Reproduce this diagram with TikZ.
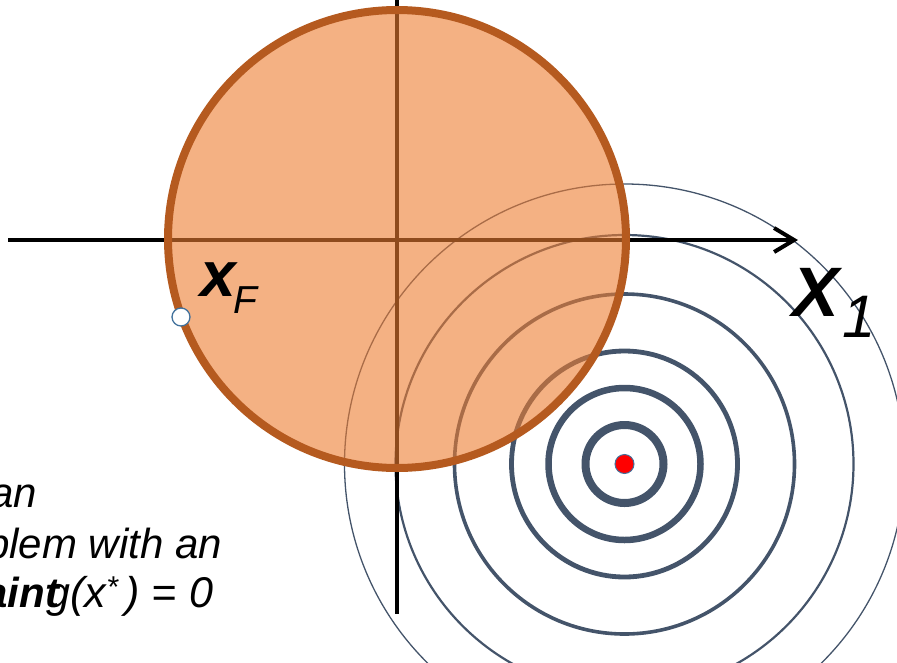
\documentclass[tikz,border=0pt]{standalone}
\usepackage{fontspec}
\setmainfont{Liberation Sans}
\usetikzlibrary{arrows.meta}
\definecolor{diskfill}{HTML}{ED7D31}
\definecolor{diskedge}{HTML}{B55A1F}
\definecolor{contour}{HTML}{44546A}
\definecolor{ptedge}{HTML}{41719C}
\tikzset{
  axisline/.style={line width=4.5pt, black},
  contourline/.style={draw=contour},
  labeltext/.style={inner sep=0pt, outer sep=0pt, font=\itshape},
}
\begin{document}
\begin{tikzpicture}[x=1pt,y=-1pt]
\useasboundingbox (0,0) rectangle (897,662);
\coordinate (O) at (397,239);
\coordinate (C) at (624.5,464);
% contour circles
\foreach \r/\w in {39/8, 76/6.5, 113/4.8, 170/3.6, 229/2.2, 280/1.3}
  \draw[contourline, line width=\w pt] (C) circle (\r);
% axes
\coordinate (L) at (8,240);
\coordinate (R) at (798,240);
\coordinate (T) at (397,-6);
\coordinate (B) at (397,614);
\draw[axisline, -{Straight Barb[length=20pt,width=24pt,line width=4pt]}] (L) -- (R);
\draw[axisline] (T) -- (B);
% feasible disk
\fill[diskfill, fill opacity=0.6] (O) circle (229);
\draw[diskedge, line width=8pt] (O) circle (229);
% points
\node[circle, draw=ptedge, fill=white, line width=1.3pt, minimum size=18pt, inner sep=0pt] (xf) at (181,317) {};
\node[circle, draw=ptedge, fill=red, line width=1pt, minimum size=19pt, inner sep=0pt] (xstar) at (C) {};
% labels
\node[labeltext, anchor=base west, font=\bfseries\itshape\fontsize{64}{64}\selectfont] (xFx) at (200,296) {x};
\node[labeltext, anchor=base west, font=\itshape\fontsize{39}{39}\selectfont] (xFF) at (233,313) {F};
\node[labeltext, anchor=base west, font=\bfseries\itshape\fontsize{70}{70}\selectfont] (X1X) at (792,316) {X};
\node[labeltext, anchor=base west, font=\itshape\fontsize{60}{60}\selectfont] (X1one) at (842,337) {1};
% bottom-left text
\node[labeltext, anchor=base east, font=\itshape\fontsize{42}{42}\selectfont] (t1) at (37,507) {an};
\node[labeltext, anchor=base east, font=\itshape\fontsize{42}{42}\selectfont] (t2) at (222,558) {blem with an};
\node[labeltext, anchor=base east, font=\itshape\fontsize{43}{43}\selectfont] (t3) at (213,607) {g(x\textsuperscript{*}\,) = 0};
\node[labeltext, anchor=base east, font=\bfseries\itshape\fontsize{42}{42}\selectfont] (t3b) at (59,607) {aint};
\end{tikzpicture}
\end{document}
